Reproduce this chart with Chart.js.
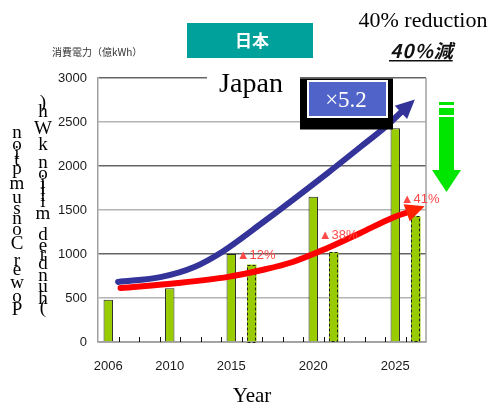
<!DOCTYPE html>
<html>
<head>
<meta charset="utf-8">
<script src="https://cdn.jsdelivr.net/npm/chart.js@4.4.1/dist/chart.umd.min.js"></script>
<style>
  html, body { margin: 0; padding: 0; background: #fff; }
  #wrap { position: relative; width: 494px; height: 408px; }
</style>
</head>
<body>
<div id="wrap"><canvas id="power"></canvas></div>
<script>
// x axis slots; the blank ones keep the gaps between the years
var slots = ['2006', '', '', '2010', '', '', '2015', '', '', '', '2020', '', '', '', '2025', ''];
// consumption without savings (solid) and with savings (dashed), 100 million kWh
var demand = [480, null, null, 610, null, null, 1000, null, null, null, 1650, null, null, null, 2430, null];
var saved  = [null, null, null, null, null, null, null, 880, null, null, null, 1020, null, null, null, 1430];
var cutLabels = ['', '', '', '', '', '', '', '▲12%', '', '', '', '▲38%', '', '', '', '▲41%'];
// trend arrows, x given in slot units
var growthX = [0.98, 3.1, 4.7, 6.05, 8.0, 11.2, 12.8, 14.0, 14.85];
var growthY = [682, 740, 852, 1023, 1352, 1920, 2216, 2440, 2625];
var trendX = [1.1, 3.9, 6.35, 8.0, 9.5, 11.2, 12.8, 14.4, 15.15];
var trendY = [614, 670, 740, 818, 909, 1068, 1239, 1415, 1477];
var yMax = 3000, yStep = 500;

function pts(xs, ys) {
  return xs.map(function (x, i) { return { x: x, y: ys[i] }; });
}

var serif = '"Liberation Serif", "Times New Roman", serif';
var sans = '"Liberation Sans", Arial, sans-serif';
var jp = '"Noto Sans CJK JP", sans-serif';

var extras = {
  id: 'extras',
  afterDatasetDraw: function (chart, args) {
    var ctx = chart.ctx;
    var meta = args.meta;
    if (args.index === 1) {
      // dashed outline for the savings bars
      ctx.save();
      ctx.strokeStyle = '#222';
      ctx.lineWidth = 1;
      ctx.setLineDash([3, 2]);
      meta.data.forEach(function (el, i) {
        if (saved[i] == null) return;
        var p = el.getProps(['x', 'y', 'base', 'width'], true);
        ctx.strokeRect(Math.round(p.x - p.width / 2) + 0.5, Math.round(p.y) + 0.5,
          Math.round(p.width) - 1, Math.round(p.base - p.y));
      });
      ctx.restore();
    }
    if (meta.type === 'line') {
      var d = meta.data;
      var last = d[d.length - 1];
      var fx = last.cp1x, fy = last.cp1y;
      if (fx == null || (fx === last.x && fy === last.y)) { fx = d[d.length - 2].x; fy = d[d.length - 2].y; }
      var dx = last.x - fx, dy = last.y - fy, len = Math.hypot(dx, dy);
      dx /= len; dy /= len;
      var L = 17, W = 9;
      var bx = last.x - dx * 2, by = last.y - dy * 2;
      ctx.save();
      ctx.fillStyle = chart.data.datasets[args.index].headColor;
      ctx.beginPath();
      ctx.moveTo(last.x + dx * L, last.y + dy * L);
      ctx.lineTo(bx - dy * W, by + dx * W);
      ctx.lineTo(bx + dy * W, by - dx * W);
      ctx.closePath();
      ctx.fill();
      ctx.restore();
    }
  },
  afterDraw: function (chart) {
    var ctx = chart.ctx;
    var a = chart.chartArea;
    var xs = chart.scales.x;
    var slotW = (a.right - a.left) / slots.length;
    ctx.save();

    // right frame line
    ctx.strokeStyle = '#a0a0a0';
    ctx.lineWidth = 1.5;
    ctx.beginPath();
    ctx.moveTo(a.right, a.top);
    ctx.lineTo(a.right, a.bottom);
    ctx.stroke();

    // small ticks between slots
    ctx.strokeStyle = '#111';
    ctx.lineWidth = 1;
    for (var i = 1; i < slots.length; i++) {
      var tx = Math.round(xs.getPixelForValue(i) - slotW / 2) + 0.5;
      ctx.beginPath();
      ctx.moveTo(tx, a.bottom);
      ctx.lineTo(tx, a.bottom - 5);
      ctx.stroke();
    }

    // reduction labels above the savings bars
    var lift = { 7: 9, 11: 17, 15: 17 };
    var bars = chart.getDatasetMeta(1).data;
    ctx.font = '13px ' + sans;
    ctx.textAlign = 'left';
    ctx.textBaseline = 'middle';
    ctx.fillStyle = '#ff4848';
    cutLabels.forEach(function (t, i) {
      if (!t) return;
      var p = bars[i].getProps(['x', 'y'], true);
      ctx.fillText(t, p.x - 15, p.y - lift[i]);
    });

    // ×5.2 badge
    ctx.fillStyle = '#000';
    ctx.fillRect(300, 78.5, 93, 51);
    ctx.fillStyle = '#fff';
    ctx.fillRect(307, 80, 81, 38);
    ctx.fillStyle = '#4f63c9';
    ctx.fillRect(309, 82, 77, 34);
    ctx.fillStyle = '#fff';
    ctx.font = '23px ' + serif;
    ctx.textAlign = 'center';
    ctx.textBaseline = 'alphabetic';
    ctx.fillText('×5.2', 346, 107);

    // header boxes
    ctx.fillStyle = '#fff';
    ctx.fillRect(207, 62, 93, 34);
    ctx.fillStyle = '#000';
    ctx.font = '28px ' + serif;
    ctx.fillText('Japan', 251, 92);

    ctx.fillStyle = '#00a19b';
    ctx.fillRect(187, 23, 126, 35);
    ctx.fillStyle = '#fff';
    ctx.font = 'bold 17px ' + jp;
    ctx.textBaseline = 'middle';
    ctx.fillText('日本', 252, 41);

    ctx.fillStyle = '#333';
    ctx.font = '10px ' + jp;
    ctx.textAlign = 'left';
    ctx.fillText('消費電力（億kWh）', 52, 52);

    ctx.fillStyle = '#000';
    ctx.font = '22px ' + serif;
    ctx.textAlign = 'center';
    ctx.textBaseline = 'alphabetic';
    ctx.fillText('40% reduction', 423, 27);

    ctx.fillStyle = '#111';
    ctx.font = 'italic bold 19px ' + jp;
    ctx.letterSpacing = '1px';
    ctx.textAlign = 'left';
    ctx.fillText('40%減', 390, 58);
    var uw = ctx.measureText('40%減').width;
    ctx.letterSpacing = '0px';
    ctx.fillRect(389, 60, uw, 1.5);

    // green down arrow
    ctx.fillStyle = '#00e600';
    ctx.fillRect(439, 102, 15, 3);
    ctx.fillRect(439, 108, 15, 7);
    ctx.fillRect(439, 117, 15, 54);
    ctx.beginPath();
    ctx.moveTo(432, 170);
    ctx.lineTo(461, 170);
    ctx.lineTo(446.5, 192);
    ctx.closePath();
    ctx.fill();

    // axis titles
    ctx.fillStyle = '#000';
    ctx.font = '21px ' + serif;
    ctx.textAlign = 'center';
    ctx.fillText('Year', 252, 402);

    // vertical title: upright glyphs stacked from the bottom up
    ctx.font = '19px ' + serif;
    ctx.textBaseline = 'middle';
    function stack(text, cx, y0) {
      var y = y0;
      for (var k = 0; k < text.length; k++) {
        var w = ctx.measureText(text[k]).width * 1.21;
        if (text[k] !== ' ') ctx.fillText(text[k], cx, y - w / 2);
        y -= w;
      }
    }
    stack('Power Consumption', 17, 316);
    stack('(hundred million kWh)', 43, 312);

    ctx.restore();
  }
};

new Chart(document.getElementById('power'), {
  type: 'bar',
  data: {
    labels: slots,
    datasets: [{
      data: demand,
      backgroundColor: '#99cc00',
      borderColor: '#222',
      borderWidth: 1,
      grouped: false,
      barPercentage: 0.46,
      categoryPercentage: 1,
      order: 3
    }, {
      data: saved,
      backgroundColor: '#99cc00',
      borderWidth: 0,
      grouped: false,
      barPercentage: 0.46,
      categoryPercentage: 1,
      order: 2
    }, {
      type: 'line',
      xAxisID: 'xl',
      data: pts(growthX, growthY),
      borderColor: '#333399',
      headColor: '#333399',
      borderWidth: 6,
      borderCapStyle: 'round',
      cubicInterpolationMode: 'monotone',
      pointRadius: 0,
      order: 1
    }, {
      type: 'line',
      xAxisID: 'xl',
      data: pts(trendX, trendY),
      borderColor: '#ff0000',
      headColor: '#ff2200',
      borderWidth: 6,
      borderCapStyle: 'round',
      cubicInterpolationMode: 'monotone',
      pointRadius: 0,
      order: 0
    }]
  },
  options: {
    responsive: true,
    maintainAspectRatio: false,
    animation: false,
    layout: { padding: { top: 78, right: 68, bottom: 26, left: 0 } },
    plugins: { legend: { display: false }, tooltip: { enabled: false } },
    scales: {
      x: {
        grid: { display: false, drawTicks: false },
        border: { display: true, color: '#a0a0a0', width: 1.5 },
        ticks: {
          autoSkip: false, maxRotation: 0, padding: 17,
          color: '#1a1a1a', font: { family: sans, size: 13 }
        },
        afterFit: function (s) { s.height = 40; s.paddingLeft = 0; s.paddingRight = 0; }
      },
      xl: { type: 'linear', display: false, offset: false, min: 0, max: slots.length },
      y: {
        min: 0, max: yMax,
        grid: {
          drawTicks: false, lineWidth: 1.5,
          color: function (c) { return c.tick && c.tick.value % 1000 === 0 ? '#666' : '#b4b4b4'; }
        },
        border: { display: true, color: '#a0a0a0', width: 1.5 },
        ticks: {
          stepSize: yStep, padding: 11,
          color: '#1a1a1a', font: { family: sans, size: 13 },
          callback: function (v) { return String(v); }
        },
        afterFit: function (s) { s.width = 98; s.paddingTop = 0; s.paddingBottom = 0; }
      }
    }
  },
  plugins: [extras]
});
</script>
</body>
</html>
